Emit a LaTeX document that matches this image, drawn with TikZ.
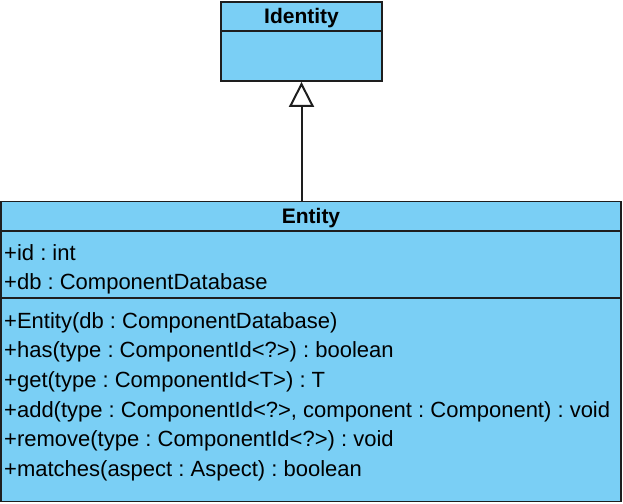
\documentclass[tikz,border=0pt]{standalone}
\usepackage{fontspec}
\setmainfont{Liberation Sans}
\frenchspacing
\usetikzlibrary{arrows.meta}
\definecolor{umlfill}{RGB}{122,207,245}
\definecolor{umlline}{RGB}{30,30,30}
\tikzset{
  umlbox/.style={draw=umlline, fill=umlfill, line width=1.9pt, rectangle, inner sep=0pt},
  umlsep/.style={draw=umlline, line width=1.9pt},
  umltitle/.style={font=\fontsize{21}{25}\selectfont\bfseries, inner sep=0pt},
  umltext/.style={font=\fontsize{22}{26}\selectfont, inner sep=0pt, anchor=base west},
  generalization/.style={draw=umlline, line width=2pt, -{Triangle[open, length=25pt, width=25pt, fill=white]}}
}
\begin{document}
\begin{tikzpicture}[x=1pt,y=-1pt]
\useasboundingbox (0,0) rectangle (623,503);
% Identity
\node[umlbox, minimum width=161pt, minimum height=79pt] (identity) at (301.5,41.5) {};
\draw[umlsep] ([yshift=-30pt]identity.north west) -- ([yshift=-30pt]identity.north east);
\node[umltitle] (identityname) at (301.5,18.5) {Identity};
% Entity
\node[umlbox, minimum width=620pt, minimum height=300pt] (entity) at (311,351.5) {};
\draw[umlsep] ([yshift=-30pt]entity.north west) -- ([yshift=-30pt]entity.north east);
\draw[umlsep] ([yshift=-97.5pt]entity.north west) -- ([yshift=-97.5pt]entity.north east);
\node[umltitle] (entityname) at (311,218) {Entity};
\node[umltext] (a1) at (4,260) {+id : int};
\node[umltext] (a2) at (4,289.5) {+db : ComponentDatabase};
\node[umltext] (m1) at (4,328) {+Entity(db : ComponentDatabase)};
\node[umltext] (m2) at (4,357.7) {+has(type : ComponentId<?>) : boolean};
\node[umltext] (m3) at (4,387.4) {+get(type : ComponentId<T>) : T};
\node[umltext] (m4) at (4,417.1) {+add(type : ComponentId<?>, component : Component) : void};
\node[umltext] (m5) at (4,446.8) {+remove(type : ComponentId<?>) : void};
\node[umltext] (m6) at (4,476.5) {+matches(aspect : Aspect) : boolean};
% Generalization
\draw[generalization] (entity.north -| identity.south) -- (identity.south);
\end{tikzpicture}
\end{document}
